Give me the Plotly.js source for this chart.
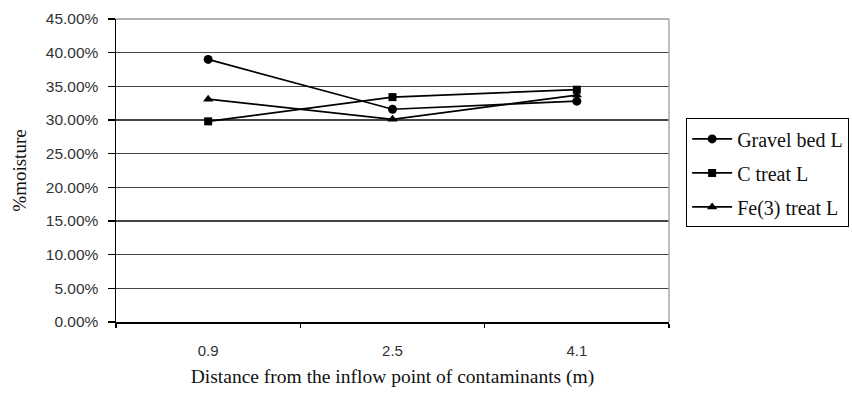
<!DOCTYPE html>
<html>
<head>
<meta charset="utf-8">
<script src="https://cdn.plot.ly/plotly-3.0.1.min.js"></script>
<style>
  html, body { margin: 0; padding: 0; background: #fff; }
  #chart { width: 852px; height: 398px; }
</style>
</head>
<body>
<div id="chart"></div>
<script>
// Distances from the inflow point (m), shown as categories
const distances = ["0.9", "2.5", "4.1"];

// Moisture content (fraction) per bed
const gravelBed = [0.390, 0.316, 0.328];
const cTreat    = [0.298, 0.334, 0.345];
const fe3Treat  = [0.331, 0.301, 0.337];

const seriesNames = ["Gravel bed L", "C treat L", "Fe(3) treat L"];

const yTicks = [0, 0.05, 0.10, 0.15, 0.20, 0.25, 0.30, 0.35, 0.40, 0.45];

function series(name, values, symbol, size, group) {
  return {
    type: "scatter",
    mode: "lines+markers",
    name: name,
    x: distances,
    y: values,
    legendgroup: group,
    line: { color: "#000", width: 1.7 },
    marker: { symbol: symbol, size: size, color: "#000" },
    cliponaxis: false
  };
}

const data = [
  series(seriesNames[0], gravelBed, "circle", 9, "g1"),
  series(seriesNames[1], cTreat, "square", 8, "g2"),
  series(seriesNames[2], fe3Treat, "triangle-up", 9, "g3")
];

const serif = "Liberation Serif, Times New Roman, serif";
const sans = "Liberation Sans, Arial, sans-serif";

const layout = {
  width: 852,
  height: 398,
  margin: { l: 116, r: 183, t: 19, b: 76, autoexpand: false },
  paper_bgcolor: "#fff",
  plot_bgcolor: "#fff",
  showlegend: true,
  xaxis: {
    type: "category",
    range: [-0.5, 2.5],
    showline: true,
    linecolor: "#000",
    linewidth: 1.5,
    showgrid: false,
    ticks: "outside",
    tickson: "boundaries",
    ticklen: 4,
    tickcolor: "#000",
    tickwidth: 1.5,
    ticklabelstandoff: 14,
    tickfont: { family: sans, size: 15, color: "#333" },
    title: {
      text: "Distance from the inflow point of contaminants (m)",
      font: { family: serif, size: 19.5, color: "#111" },
      standoff: 12
    },
    automargin: false,
    fixedrange: true
  },
  yaxis: {
    range: [0, 0.45],
    tickvals: yTicks,
    tickformat: ".2%",
    showline: true,
    linecolor: "#000",
    linewidth: 1.5,
    showgrid: true,
    gridcolor: "#444",
    gridwidth: 1.5,
    zeroline: false,
    ticks: "outside",
    ticklen: 7,
    tickcolor: "#000",
    tickwidth: 1.5,
    ticklabelstandoff: 6,
    tickfont: { family: sans, size: 15.5, color: "#333" },
    title: {
      text: "%moisture",
      font: { family: serif, size: 19, color: "#111" },
      standoff: 14
    },
    automargin: false,
    fixedrange: true
  },
  legend: {
    x: 1.031,
    xanchor: "left",
    y: 0.672,
    yanchor: "top",
    bgcolor: "#fff",
    bordercolor: "#000",
    borderwidth: 1,
    font: { family: serif, size: 20, color: "#111" },
    traceorder: "grouped",
    tracegroupgap: 5,
    itemwidth: 40
  },
  shapes: [
    // light frame round the plot area
    { type: "line", xref: "paper", yref: "paper", x0: 1, x1: 1, y0: 0, y1: 1,
      line: { color: "#aaa", width: 1.5 } },
    { type: "line", xref: "paper", yref: "paper", x0: 0, x1: 1, y0: 1, y1: 1,
      line: { color: "#999", width: 1.5 } }
  ]
};

Plotly.newPlot("chart", data, layout, { staticPlot: true, displayModeBar: false });
</script>
</body>
</html>
